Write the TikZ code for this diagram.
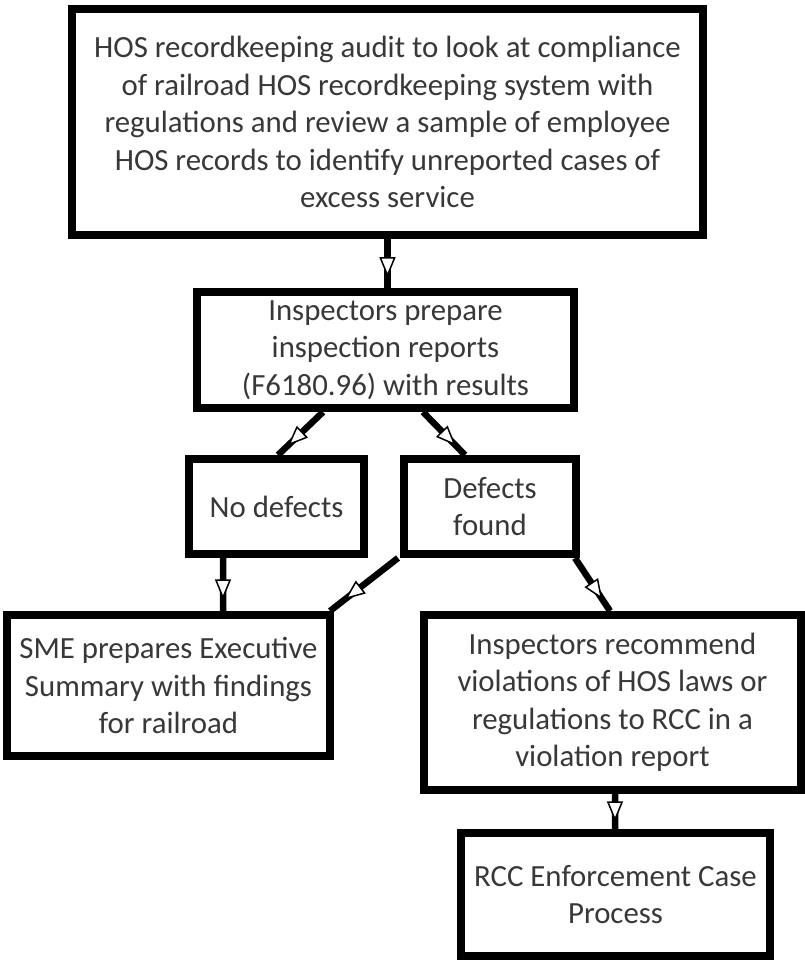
\documentclass[tikz,border=0pt]{standalone}
\usepackage{fontspec}
\setmainfont{Carlito}
\usetikzlibrary{arrows.meta,decorations.markings}
\definecolor{txt}{HTML}{383838}
\tikzset{
  box/.style={draw=black, line width=8bp, fill=white, inner sep=0pt, align=center,
    text=txt, font=\fontsize{30.8bp}{37.5bp}\selectfont},
  conn/.style={line width=6.5bp, line cap=butt, postaction={decorate},
    decoration={markings, mark=at position 0.78 with {\arrow{Triangle[fill=white, width=16bp, length=20bp, line width=1.5bp]}}}},
}
\begin{document}
\begin{tikzpicture}[x=1bp,y=-1bp]
\fill[white] (0,0) rectangle (805,963);
\useasboundingbox (0,0) rectangle (805,963);
\node[box, minimum width=631bp, minimum height=226bp] (b1) at (387.5,122)
  {HOS recordkeeping audit to look at compliance\\ of railroad HOS recordkeeping system with\\ regulations and review a sample of employee\\ HOS records to identify unreported cases of\\ excess service};
\node[box, minimum width=377bp, minimum height=116bp] (b2) at (385.5,350)
  {Inspectors prepare\\ inspection reports\\ (F6180.96) with results};
\node[box, minimum width=175bp, minimum height=95bp] (b3) at (276.5,506.5) {No defects};
\node[box, minimum width=172bp, minimum height=95bp] (b4) at (490,506.5) {Defects\\ found};
\node[box, minimum width=323bp, minimum height=141bp] (b5) at (168.5,685.5)
  {SME prepares Executive\\ Summary with findings\\ for railroad};
\node[box, minimum width=377bp, minimum height=175bp] (b6) at (612.5,702.5)
  {Inspectors recommend\\ violations of HOS laws or\\ regulations to RCC in a\\ violation report};
\node[box, minimum width=309bp, minimum height=123bp] (b7) at (615.5,894.5)
  {RCC Enforcement Case\\ Process};
\draw[conn] (b1.south) -- (b1.south |- b2.north);
\draw[conn] ([xshift=130bp]b2.south west) -- ([xshift=93bp]b3.north west);
\draw[conn] ([xshift=230bp]b2.south west) -- ([xshift=65bp]b4.north west);
\draw[conn] ([xshift=38bp]b3.south west) -- ([xshift=220bp]b5.north west);
\draw[conn] ([xshift=-2bp]b4.south west) -- ([xshift=-4bp]b5.north east);
\draw[conn] ([xshift=-5bp]b4.south east) -- ([xshift=190bp]b6.north west);
\draw[conn] ([xshift=195bp]b6.south west) -- ([xshift=158bp]b7.north west);
\end{tikzpicture}
\end{document}
